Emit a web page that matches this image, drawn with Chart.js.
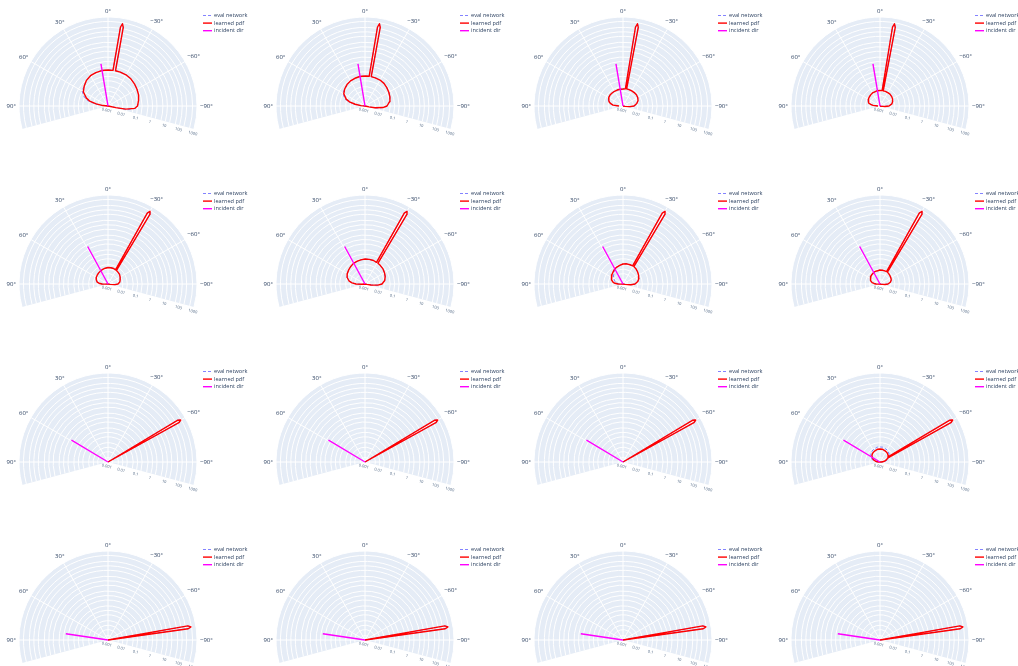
<!DOCTYPE html>
<html>
<head>
<meta charset="utf-8">
<title>learned pdf vs eval network</title>
<script src="https://cdn.jsdelivr.net/npm/chart.js@4.4.1/dist/chart.umd.min.js"></script>
<style>
  html, body { margin: 0; padding: 0; background: #ffffff; }
  #grid { position: relative; width: 1018px; height: 666px; overflow: hidden; }
  #grid canvas { position: absolute; }
</style>
</head>
<body>
<div id="grid"></div>
<script>
// ---------- values ----------
const seriesNames = ['eval network', 'learned pdf', 'incident dir'];

const angularTickValues = [0, 30, 60, 90, -30, -60, -90];
const angularTickLabels = ['0°', '30°', '60°', '90°', '−30°', '−60°', '−90°'];

// log radial axis: grid at 1-2-5 steps, labels at decades
const radialRangeLog = [-3, 3];
const radialGridValues = [0.002, 0.005, 0.01, 0.02, 0.05, 0.1, 0.2, 0.5, 1, 2, 5, 10, 20, 50, 100, 200, 500, 1000];
const radialTickValues = [0.001, 0.01, 0.1, 1, 10, 100, 1000];
const radialTickLabels = ['0.001', '0.01', '0.1', '1', '10', '100', '1000'];

const sectorDeg = [-105, 105];

// incident direction per row (degrees) and its radial extent
const incidentThetaByRow = [9.5, 28.5, 59, 81.5];
const incidentR = [0, 0.75];

// row 1: specular peak near -10°
const thetaRow1 = [-104, -102, -100, -95, -90, -80, -70, -60, -50, -40, -30, -20, -12, -11, -10, -9, -8, 0, 10, 20, 30, 40, 50, 60, 70, 75, 80, 85, 90];
const learnedRow1 = [
  [0.0005, 0.00346, 0.0163, 0.0661, 0.0975, 0.123, 0.156, 0.181, 0.212, 0.247, 0.267, 0.267, 0.267, 247, 425, 247, 0.267, 0.267, 0.267, 0.247, 0.229, 0.181, 0.123, 0.0834, 0.0355, 0.0191, 0.00644, 0.00217, 0.0005],
  [0.0005, 0.00186, 0.00472, 0.0163, 0.0304, 0.0484, 0.0612, 0.0714, 0.0834, 0.0975, 0.105, 0.105, 0.105, 247, 425, 247, 0.105, 0.105, 0.105, 0.0975, 0.0902, 0.0772, 0.0612, 0.0449, 0.0223, 0.0120, 0.00472, 0.00186, 0.0005],
  [0.0005, 0.0005, 0.00136, 0.00296, 0.00552, 0.00879, 0.0120, 0.0140, 0.0151, 0.0151, 0.0151, 0.0151, 0.0151, 247, 425, 247, 0.0151, 0.0140, 0.0140, 0.0140, 0.0140, 0.0140, 0.0140, 0.0130, 0.0103, 0.00879, 0.00644, 0.00472, 0.00186],
  [0.0005, 0.0005, 0.00117, 0.00217, 0.00404, 0.00644, 0.00813, 0.00950, 0.0103, 0.0111, 0.0111, 0.0111, 0.0111, 247, 425, 247, 0.0111, 0.0111, 0.0111, 0.0103, 0.0103, 0.00950, 0.00879, 0.00813, 0.00696, 0.00596, 0.00437, 0.00296, 0.00136]
];
const evalRow1 = [
  [0.0005, 0.00552, 0.0223, 0.0714, 0.0975, 0.123, 0.156, 0.181, 0.212, 0.247, 0.267, 0.267, 0.267, 247, 425, 247, 0.267, 0.267, 0.267, 0.247, 0.229, 0.181, 0.123, 0.105, 0.0484, 0.0260, 0.00879, 0.00296, 0.0005],
  [0.0005, 0.00254, 0.00644, 0.0163, 0.0304, 0.0484, 0.0612, 0.0714, 0.0834, 0.0975, 0.105, 0.105, 0.105, 247, 425, 247, 0.105, 0.105, 0.105, 0.0975, 0.0902, 0.0772, 0.0612, 0.0524, 0.0281, 0.0151, 0.00644, 0.00217, 0.0005],
  [0.0005, 0.0005, 0.00159, 0.00346, 0.00596, 0.00879, 0.0120, 0.0140, 0.0151, 0.0151, 0.0151, 0.0151, 0.0151, 247, 425, 247, 0.0151, 0.0140, 0.0140, 0.0140, 0.0140, 0.0140, 0.0140, 0.0140, 0.0111, 0.00950, 0.00696, 0.00472, 0.00186],
  [0.0005, 0.0005, 0.00117, 0.00217, 0.00404, 0.00644, 0.00813, 0.00950, 0.0103, 0.0111, 0.0111, 0.0111, 0.0111, 247, 425, 247, 0.0111, 0.0111, 0.0111, 0.0103, 0.0103, 0.00950, 0.00879, 0.00813, 0.00696, 0.00596, 0.00437, 0.00296, 0.00136]
];

// row 2: specular peak near -30°
const thetaRow2 = [-104, -102, -100, -95, -90, -80, -70, -60, -50, -40, -32, -31, -30, -29, -28, -20, -10, 0, 10, 20, 30, 40, 50, 60, 70, 80, 85, 90, 95, 100];
const learnedRow2 = [
  [0.0005, 0.0005, 0.00136, 0.00296, 0.00472, 0.00644, 0.00752, 0.00879, 0.0103, 0.0111, 0.0120, 289, 460, 289, 0.0120, 0.0130, 0.0130, 0.0130, 0.0120, 0.0111, 0.0103, 0.00950, 0.00879, 0.00813, 0.00696, 0.00552, 0.00404, 0.00254, 0.00136, 0.0005],
  [0.0005, 0.00136, 0.00254, 0.00752, 0.0140, 0.0223, 0.0281, 0.0329, 0.0384, 0.0415, 0.0449, 289, 460, 289, 0.0449, 0.0484, 0.0484, 0.0484, 0.0449, 0.0415, 0.0384, 0.0329, 0.0281, 0.0241, 0.0191, 0.0120, 0.00752, 0.00404, 0.00159, 0.0005],
  [0.0005, 0.0005, 0.00136, 0.00346, 0.00644, 0.0103, 0.0140, 0.0163, 0.0191, 0.0223, 0.0241, 289, 460, 289, 0.0241, 0.0241, 0.0241, 0.0223, 0.0191, 0.0163, 0.0140, 0.0111, 0.00950, 0.00813, 0.00644, 0.00472, 0.00346, 0.00217, 0.00117, 0.0005],
  [0.0005, 0.0005, 0.00117, 0.00217, 0.00346, 0.00510, 0.00644, 0.00696, 0.00752, 0.00813, 0.00879, 289, 460, 289, 0.00879, 0.00879, 0.00879, 0.00879, 0.00813, 0.00813, 0.00752, 0.00696, 0.00644, 0.00552, 0.00472, 0.00346, 0.00254, 0.00186, 0.00117, 0.0005]
];
const evalRow2 = [
  [0.0005, 0.0005, 0.00136, 0.00296, 0.00472, 0.00644, 0.00752, 0.00879, 0.0103, 0.0111, 0.0120, 289, 460, 289, 0.0120, 0.0130, 0.0130, 0.0130, 0.0120, 0.0111, 0.0103, 0.00950, 0.00879, 0.00813, 0.00696, 0.00552, 0.00404, 0.00254, 0.00136, 0.0005],
  [0.0005, 0.00136, 0.00254, 0.00752, 0.0140, 0.0223, 0.0281, 0.0329, 0.0384, 0.0415, 0.0449, 289, 460, 289, 0.0449, 0.0484, 0.0484, 0.0484, 0.0449, 0.0415, 0.0384, 0.0329, 0.0281, 0.0241, 0.0191, 0.0120, 0.00752, 0.00404, 0.00159, 0.0005],
  [0.0005, 0.0005, 0.00136, 0.00346, 0.00644, 0.0103, 0.0140, 0.0163, 0.0191, 0.0223, 0.0241, 289, 460, 289, 0.0241, 0.0241, 0.0241, 0.0223, 0.0191, 0.0163, 0.0140, 0.00879, 0.00696, 0.00510, 0.00404, 0.00296, 0.00217, 0.00159, 0.0005, 0.0005],
  [0.0005, 0.0005, 0.00117, 0.00217, 0.00346, 0.00510, 0.00644, 0.00696, 0.00752, 0.00813, 0.00879, 289, 460, 289, 0.00879, 0.00879, 0.00879, 0.00879, 0.00813, 0.00813, 0.00752, 0.00696, 0.00644, 0.00552, 0.00472, 0.00346, 0.00254, 0.00186, 0.00117, 0.0005]
];

// row 3: specular peak near -60°
const thetaRow3 = [-104, -100, -90, -80, -70, -62, -61, -60, -59, -58, -50, -40, -30, -20, -10, 0, 10, 20, 30, 40, 50, 60, 70, 80, 90, 100];
const peakOnlyRow3 = [0.0005, 0.0005, 0.0005, 0.0005, 0.0005, 0.0005, 289, 460, 289, 0.0005, 0.0005, 0.0005, 0.0005, 0.0005, 0.0005, 0.0005, 0.0005, 0.0005, 0.0005, 0.0005, 0.0005, 0.0005, 0.0005, 0.0005, 0.0005, 0.0005];
const learnedRow3 = [
  peakOnlyRow3,
  peakOnlyRow3,
  peakOnlyRow3,
  [0.0005, 0.0005, 0.00126, 0.00201, 0.00296, 0.00404, 289, 460, 289, 0.00437, 0.00510, 0.00596, 0.00644, 0.00696, 0.00752, 0.00752, 0.00752, 0.00696, 0.00644, 0.00596, 0.00510, 0.00404, 0.00296, 0.00201, 0.00126, 0.0005]
];
const evalRow3 = [
  peakOnlyRow3,
  peakOnlyRow3,
  peakOnlyRow3,
  [0.0005, 0.0005, 0.00159, 0.00254, 0.00404, 0.00510, 289, 460, 289, 0.00552, 0.00644, 0.00752, 0.00879, 0.00950, 0.0103, 0.0103, 0.0103, 0.00950, 0.00879, 0.00752, 0.00644, 0.00510, 0.00404, 0.00254, 0.00159, 0.0005]
];

// row 4: specular peak near -81°
const thetaRow4 = [-104, -90, -83, -82, -81, -80, -79, -70, -50, -30, 0, 30, 50, 70, 90];
const peakOnlyRow4 = [0.0005, 0.0005, 0.0005, 289, 460, 289, 0.0005, 0.0005, 0.0005, 0.0005, 0.0005, 0.0005, 0.0005, 0.0005, 0.0005];
const learnedRow4 = [peakOnlyRow4, peakOnlyRow4, peakOnlyRow4, peakOnlyRow4];
const evalRow4 = [peakOnlyRow4, peakOnlyRow4, peakOnlyRow4, peakOnlyRow4];

const thetaRows = [thetaRow1, thetaRow2, thetaRow3, thetaRow4];
const learnedRows = [learnedRow1, learnedRow2, learnedRow3, learnedRow4];
const evalRows = [evalRow1, evalRow2, evalRow3, evalRow4];

// ---------- layout & style ----------
const CELL_W = 257, CELL_H = 178;
const COL_LEFT = [0, 257, 515, 772];
const CENTER_X = 108, CENTER_Y = 106, RADIUS = 89;
const POLAR_BG = '#E5ECF6';
const TEXT_COLOR = '#2a3f5f';
const FONT = '"Open Sans", "DejaVu Sans", sans-serif';
const EVAL_COLOR = 'rgba(90, 90, 255, 0.75)';
const LEARNED_COLOR = '#ff0000';
const INCIDENT_COLOR = '#ff00ff';

// polar (deg, value) -> unit-disk cartesian, log radial mapping
function rhoOf(r) {
  const lg = r > 0 ? Math.log10(r) : -Infinity;
  const rho = (lg - radialRangeLog[0]) / (radialRangeLog[1] - radialRangeLog[0]);
  return Math.min(1, Math.max(0, rho));
}
function polarPoint(thetaDeg, r) {
  const rho = rhoOf(r);
  const t = thetaDeg * Math.PI / 180;
  return { x: -rho * Math.sin(t), y: rho * Math.cos(t) };
}
function canvasAngle(thetaDeg) {
  return (-90 - thetaDeg) * Math.PI / 180;
}

const polarFrame = {
  id: 'polarFrame',
  beforeDatasetsDraw(chart) {
    const { ctx } = chart;
    const xs = chart.scales.x, ys = chart.scales.y;
    const cx = xs.getPixelForValue(0), cy = ys.getPixelForValue(0);
    const R = xs.getPixelForValue(1) - cx;
    const a0 = canvasAngle(sectorDeg[1]), a1 = canvasAngle(sectorDeg[0]);
    ctx.save();
    // sector background
    ctx.fillStyle = POLAR_BG;
    ctx.beginPath();
    ctx.moveTo(cx, cy);
    ctx.arc(cx, cy, R, a0, a1, false);
    ctx.closePath();
    ctx.fill();
    // radial grid arcs
    ctx.strokeStyle = '#ffffff';
    ctx.lineWidth = 1;
    radialGridValues.forEach(v => {
      const rp = xs.getPixelForValue(rhoOf(v)) - cx;
      ctx.beginPath();
      ctx.arc(cx, cy, rp, a0, a1, false);
      ctx.stroke();
    });
    // angular spokes
    angularTickValues.forEach(t => {
      const p = polarPoint(t, Math.pow(10, radialRangeLog[1]));
      ctx.beginPath();
      ctx.moveTo(cx, cy);
      ctx.lineTo(xs.getPixelForValue(p.x), ys.getPixelForValue(p.y));
      ctx.stroke();
    });
    // angular labels
    ctx.fillStyle = TEXT_COLOR;
    ctx.font = '6px ' + FONT;
    ctx.textAlign = 'center';
    ctx.textBaseline = 'middle';
    angularTickValues.forEach((t, i) => {
      const label = angularTickLabels[i];
      const w = ctx.measureText(label).width;
      const tr = t * Math.PI / 180;
      const half = Math.abs(Math.sin(tr)) * w / 2 + Math.abs(Math.cos(tr)) * 2.5;
      const d = R + 3 + half;
      ctx.fillText(label, cx - d * Math.sin(tr), cy - d * Math.cos(tr));
    });
    // radial tick labels along the lower-right sector edge
    const te = sectorDeg[0] * Math.PI / 180;
    const dirX = -Math.sin(te), dirY = -Math.cos(te);
    const nX = -dirY, nY = dirX;
    const rot = Math.atan2(dirY, dirX);
    ctx.font = '4px ' + FONT;
    ctx.fillStyle = '#506784';
    radialTickValues.forEach((v, i) => {
      const rp = xs.getPixelForValue(rhoOf(v)) - cx;
      const px = cx + rp * dirX + nX * 4.5;
      const py = cy + rp * dirY + nY * 4.5;
      ctx.save();
      ctx.translate(px, py);
      ctx.rotate(rot);
      ctx.fillText(radialTickLabels[i], 0, 0);
      ctx.restore();
    });
    ctx.restore();
  },
  afterDraw(chart) {
    const { ctx } = chart;
    const x0 = 203, x1 = 212, xt = 214;
    let y = 15.5;
    ctx.save();
    ctx.font = '5.6px ' + FONT;
    ctx.textAlign = 'left';
    ctx.textBaseline = 'middle';
    chart.data.datasets.forEach(ds => {
      ctx.strokeStyle = ds.borderColor;
      ctx.lineWidth = ds.borderWidth;
      ctx.setLineDash(ds.borderDash || []);
      ctx.beginPath();
      ctx.moveTo(x0, y);
      ctx.lineTo(x1, y);
      ctx.stroke();
      ctx.setLineDash([]);
      ctx.fillStyle = TEXT_COLOR;
      ctx.fillText(ds.label, xt, y);
      y += 7.6;
    });
    ctx.restore();
  }
};

const grid = document.getElementById('grid');
for (let row = 0; row < 4; row++) {
  for (let col = 0; col < 4; col++) {
    const canvas = document.createElement('canvas');
    canvas.width = CELL_W;
    canvas.height = CELL_H;
    canvas.style.left = COL_LEFT[col] + 'px';
    canvas.style.top = (row * CELL_H) + 'px';
    grid.appendChild(canvas);

    const theta = thetaRows[row];
    const evalPts = theta.map((t, k) => polarPoint(t, evalRows[row][col][k]));
    const learnedPts = theta.map((t, k) => polarPoint(t, learnedRows[row][col][k]));
    const incPts = incidentR.map(r => polarPoint(incidentThetaByRow[row], r));

    new Chart(canvas, {
      type: 'scatter',
      data: {
        datasets: [
          { label: seriesNames[0], data: evalPts, showLine: true, borderColor: EVAL_COLOR, borderWidth: 1,
            borderDash: [3, 2], pointRadius: 0, pointHoverRadius: 0, order: 3, borderJoinStyle: 'round' },
          { label: seriesNames[1], data: learnedPts, showLine: true, borderColor: LEARNED_COLOR, borderWidth: 1.4,
            pointRadius: 0, pointHoverRadius: 0, order: 2, borderJoinStyle: 'round' },
          { label: seriesNames[2], data: incPts, showLine: true, borderColor: INCIDENT_COLOR, borderWidth: 1.4,
            pointRadius: 0, pointHoverRadius: 0, order: 1 }
        ]
      },
      options: {
        responsive: false,
        animation: false,
        devicePixelRatio: 1,
        events: [],
        layout: { padding: 0, autoPadding: false },
        scales: {
          x: { type: 'linear', display: false, bounds: 'data',
               min: -CENTER_X / RADIUS, max: (CELL_W - CENTER_X) / RADIUS },
          y: { type: 'linear', display: false, bounds: 'data',
               min: -(CELL_H - CENTER_Y) / RADIUS, max: CENTER_Y / RADIUS }
        },
        plugins: { legend: { display: false }, tooltip: { enabled: false } }
      },
      plugins: [polarFrame]
    });
  }
}
</script>
</body>
</html>
